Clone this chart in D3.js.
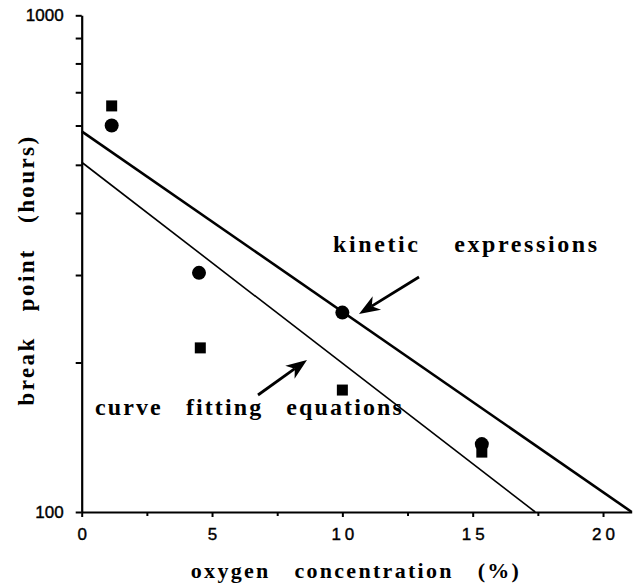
<!DOCTYPE html>
<html>
<head>
<meta charset="utf-8">
<script src="https://cdn.jsdelivr.net/npm/d3@7"></script>
<style>
  html, body { margin: 0; padding: 0; background: #fff; }
  svg { display: block; }
</style>
</head>
<body>
<svg id="chart" width="633" height="585"></svg>
<script>
// ---- data ----
const xMajorTicks = [0, 5, 10, 15, 20];
const xMinorTicks = [2.5, 7.5, 12.5, 17.5];
const yLabelTicks = [100, 1000];
const yMinorTicks = [200, 300, 400, 500, 600, 700, 800, 900];

// circles
const circleX = [1.15, 4.5, 10.0, 15.35];
const circleY = [600, 303, 252, 137];
// squares
const squareX = [1.15, 4.55, 10.0, 15.35];
const squareY = [657, 214, 176, 132];

// fitted lines: kinetic expressions (thick), curve fitting equations (thin)
const kineticLineX = [0, 21.1];
const kineticLineY = [584, 100];
const fittingLineX = [0, 17.4];
const fittingLineY = [506, 100];

const xLabel = "oxygen concentration (%)";
const yLabel = "break point (hours)";
const kineticText = "kinetic expressions";
const fittingText = "curve fitting equations";

// ---- drawing ----
const svg = d3.select("#chart");
const x = d3.scaleLinear().domain([0, 21.1]).range([81.7, 631.7]);
const y = d3.scaleLog().domain([100, 1000]).range([512, 15.3]);

const serif = "'Liberation Serif', 'Times New Roman', serif";
const sans = "'Liberation Sans', Arial, sans-serif";

// x axis
const xLs = 4;
const xAxisG = svg.append("g").attr("transform", `translate(0,${y(100)})`);
xAxisG.call(d3.axisBottom(x).tickValues(xMajorTicks).tickSize(5).tickSizeOuter(0).tickPadding(11)
  .tickFormat(d3.format("d")));
xAxisG.select(".domain").attr("stroke", "#000").attr("stroke-width", 2.2);
xAxisG.selectAll(".tick line").attr("stroke-width", 2);
xAxisG.selectAll(".tick text").attr("font-family", sans).attr("font-size", 17)
  .attr("letter-spacing", xLs).attr("dx", xLs / 2).attr("fill", "#000")
  .attr("stroke", "#000").attr("stroke-width", 0.4);
const xMinorG = svg.append("g").attr("transform", `translate(0,${y(100)})`);
xMinorG.call(d3.axisBottom(x).tickValues(xMinorTicks).tickSize(4).tickSizeOuter(0).tickFormat(""));
xMinorG.select(".domain").remove();
xMinorG.selectAll(".tick line").attr("stroke-width", 2);

// y axis
const yAxisG = svg.append("g").attr("transform", `translate(${x(0)},0)`);
yAxisG.call(d3.axisLeft(y).tickValues(yLabelTicks).tickSize(6).tickSizeOuter(0).tickPadding(12)
  .tickFormat(d3.format("d")));
yAxisG.select(".domain").attr("stroke", "#000").attr("stroke-width", 2.2);
yAxisG.selectAll(".tick line").attr("stroke-width", 2);
yAxisG.selectAll(".tick text").attr("font-family", sans).attr("font-size", 17).attr("fill", "#000")
  .attr("stroke", "#000").attr("stroke-width", 0.4);
const yMinorG = svg.append("g").attr("transform", `translate(${x(0)},0)`);
yMinorG.call(d3.axisLeft(y).tickValues(yMinorTicks).tickSize(6).tickSizeOuter(0).tickFormat(""));
yMinorG.select(".domain").remove();
yMinorG.selectAll(".tick line").attr("stroke-width", 2);

// lines
const line = d3.line().x(d => x(d[0])).y(d => y(d[1]));
svg.append("path").datum(d3.zip(kineticLineX, kineticLineY))
  .attr("d", line).attr("fill", "none").attr("stroke", "#000").attr("stroke-width", 2.6);
svg.append("path").datum(d3.zip(fittingLineX, fittingLineY))
  .attr("d", line).attr("fill", "none").attr("stroke", "#000").attr("stroke-width", 1.6);

// points
svg.append("g").selectAll("circle").data(d3.zip(circleX, circleY)).join("circle")
  .attr("cx", d => x(d[0])).attr("cy", d => y(d[1])).attr("r", 7).attr("fill", "#000");
const sq = 11;
svg.append("g").selectAll("rect").data(d3.zip(squareX, squareY)).join("rect")
  .attr("x", d => x(d[0]) - sq / 2).attr("y", d => y(d[1]) - sq / 2)
  .attr("width", sq).attr("height", sq).attr("fill", "#000");

// annotations
function annot(text, xs, yb, ls, ws) {
  svg.append("text").attr("x", xs).attr("y", yb)
    .attr("font-family", serif).attr("font-weight", "bold").attr("font-size", 24)
    .attr("letter-spacing", ls).attr("word-spacing", ws).attr("fill", "#000").text(text);
}
annot(kineticText, 333, 252, 2.6, 25);
annot(fittingText, 95, 415, 2.1, 15);

// arrows with filled, notched heads
function arrow(x1, y1, x2, y2) {
  const ang = Math.atan2(y2 - y1, x2 - x1);
  const L = 21, W = 8, N = 15;
  const c = Math.cos(ang), s = Math.sin(ang);
  const bx = x2 - L * c, by = y2 - L * s;
  const nx = x2 - N * c, ny = y2 - N * s;
  svg.append("line").attr("x1", x1).attr("y1", y1).attr("x2", nx).attr("y2", ny)
    .attr("stroke", "#000").attr("stroke-width", 2.8);
  const pts = [[x2, y2], [bx - W * s, by + W * c], [nx, ny], [bx + W * s, by - W * c]];
  svg.append("path").attr("d", "M" + pts.map(p => p.join(",")).join("L") + "Z").attr("fill", "#000");
}
arrow(419, 277, 359, 314);
arrow(258, 395, 307, 360);

// axis titles
svg.append("text").attr("x", 356).attr("y", 578).attr("text-anchor", "middle")
  .attr("font-family", serif).attr("font-weight", "bold").attr("font-size", 22)
  .attr("letter-spacing", 2.3).attr("word-spacing", 16).attr("fill", "#000").text(xLabel);
svg.append("text").attr("transform", "translate(34,270) rotate(-90)").attr("text-anchor", "middle")
  .attr("font-family", serif).attr("font-weight", "bold").attr("font-size", 23)
  .attr("letter-spacing", 2.4).attr("word-spacing", 17).attr("fill", "#000").text(yLabel);
</script>
</body>
</html>
